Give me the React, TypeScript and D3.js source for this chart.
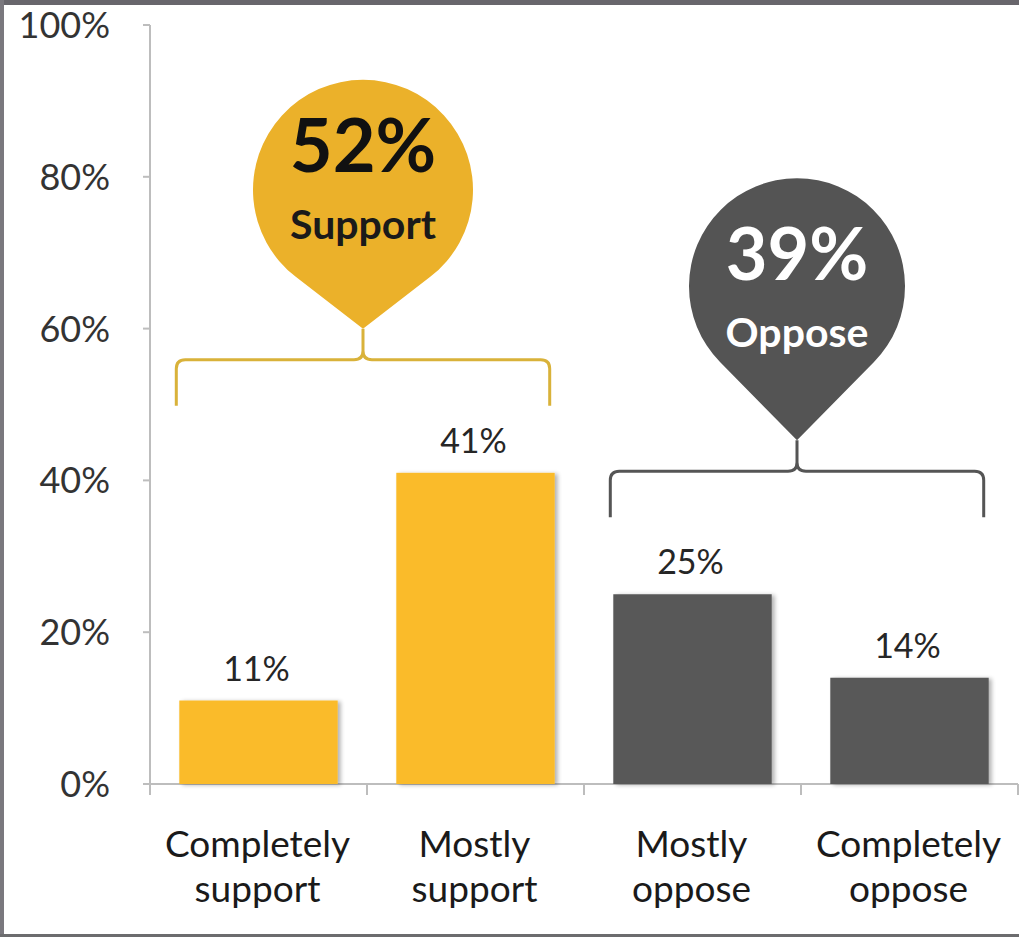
import React from "react";
import * as d3 from "d3";

const categories: string[][] = [
  ["Completely", "support"],
  ["Mostly", "support"],
  ["Mostly", "oppose"],
  ["Completely", "oppose"],
];
const values: number[] = [11, 41, 25, 14];
const valueLabels: string[] = ["11%", "41%", "25%", "14%"];
const barGroups: string[] = ["support", "support", "oppose", "oppose"];
const yTicks: number[] = [0, 20, 40, 60, 80, 100];

const groupTotals: number[] = [52, 39];
const groupNames: string[] = ["Support", "Oppose"];
const groupKeys: string[] = ["support", "oppose"];

const W = 1019;
const H = 937;
const FONT = "Lato, 'Open Sans', sans-serif";
const YELLOW = "#FABB2B";
const GRAY = "#595959";
const BUBBLE_YELLOW = "#EBB12A";
const BUBBLE_GRAY = "#545454";
const BRACE_YELLOW = "#D9B23A";
const BRACE_GRAY = "#555555";

export default function App() {
  const x = d3
    .scaleBand<number>()
    .domain(d3.range(values.length))
    .range([150, 1018])
    .paddingInner(0.27)
    .paddingOuter(0.135);
  const y = d3.scaleLinear().domain([0, 100]).range([784, 25]);

  const colorFor = (g: string) => (g === "support" ? YELLOW : GRAY);

  const bubbles = groupKeys.map((g, gi) => {
    const idx = barGroups.map((b, i) => (b === g ? i : -1)).filter((i) => i >= 0);
    const x0 = x(idx[0])! - 3;
    const x1 = x(idx[idx.length - 1])! + x.bandwidth() - 5;
    const cx = (x0 + x1) / 2;
    const topVal = d3.max(idx, (i) => values[i])!;
    const braceEnd = y(topVal) - (gi === 0 ? 67 : 77);
    const braceY = braceEnd - 46;
    const tipY = braceY - 31;
    const r = gi === 0 ? 110 : 108;
    const cy = tipY - (gi === 0 ? 139 : 154);
    return { x0, x1, cx, braceEnd, braceY, tipY, r, cy, gi };
  });

  const bubblePath = (cx: number, cy: number, r: number, ty: number) => {
    const d = ty - cy;
    const th = Math.acos(r / d);
    const px = r * Math.sin(th);
    const py = r * Math.cos(th);
    return `M${cx},${ty} L${cx + px},${cy + py} A${r},${r} 0 1 0 ${cx - px},${cy + py} Z`;
  };

  const bracePath = (x0: number, x1: number, yH: number, yEnd: number, cx: number, tip: number) => {
    const c = 9;
    return (
      `M${x0},${yEnd} L${x0},${yH + c} Q${x0},${yH} ${x0 + c},${yH} L${cx - c},${yH} Q${cx},${yH} ${cx},${yH - c} L${cx},${tip}` +
      ` M${x1},${yEnd} L${x1},${yH + c} Q${x1},${yH} ${x1 - c},${yH} L${cx + c},${yH} Q${cx},${yH} ${cx},${yH - c}`
    );
  };

  return (
    <svg
      width={W}
      height={H}
      style={{ position: "absolute", left: 0, top: 0, background: "#fff" }}
      fontFamily={FONT}
    >
      <defs>
        <filter id="shadow" x="-10%" y="-10%" width="130%" height="130%">
          <feGaussianBlur in="SourceAlpha" stdDeviation="2" />
          <feOffset dx="3" dy="1" result="ob" />
          <feComponentTransfer>
            <feFuncA type="linear" slope="0.3" />
          </feComponentTransfer>
          <feMerge>
            <feMergeNode />
            <feMergeNode in="SourceGraphic" />
          </feMerge>
        </filter>
      </defs>
      <rect x={0} y={0} width={W} height={H} fill="#fff" />

      {/* y axis */}
      <line x1={150} x2={150} y1={y(100)} y2={y(0)} stroke="#bdbdbd" strokeWidth={2} />
      {yTicks.map((t) => (
        <g key={t}>
          <line x1={143} x2={150} y1={y(t)} y2={y(t)} stroke="#bdbdbd" strokeWidth={2} />
          <text x={110} y={y(t)} dy="0.36em" textAnchor="end" fontSize={36} fill="#333">
            {t}%
          </text>
        </g>
      ))}

      {/* x axis */}
      <line x1={143} x2={1018} y1={y(0)} y2={y(0)} stroke="#bdbdbd" strokeWidth={2} />
      {d3.range(values.length + 1).map((i) => {
        const xx = 150 + i * x.step();
        return <line key={i} x1={xx} x2={xx} y1={y(0)} y2={y(0) + 11} stroke="#bdbdbd" strokeWidth={2} />;
      })}

      {/* bars */}
      {values.map((v, i) => (
        <g key={i}>
          <rect
            x={x(i)}
            y={y(v)}
            width={x.bandwidth()}
            height={y(0) - y(v)}
            fill={colorFor(barGroups[i])}
            filter="url(#shadow)"
          />
          <text
            x={x(i)! + x.bandwidth() / 2 - 2}
            y={y(v) - 20}
            textAnchor="middle"
            fontSize={34}
            fill="#262626"
          >
            {valueLabels[i]}
          </text>
          {categories[i].map((line, li) => (
            <text
              key={li}
              x={x(i)! + x.bandwidth() / 2 - 1}
              y={857 + li * 45}
              textAnchor="middle"
              fontSize={37}
              fill="#1a1a1a"
            >
              {line}
            </text>
          ))}
        </g>
      ))}

      {/* braces and bubbles */}
      {bubbles.map((b) => {
        const isS = b.gi === 0;
        return (
          <g key={b.gi}>
            <path
              d={bracePath(b.x0, b.x1, b.braceY, b.braceEnd, b.cx, b.tipY)}
              fill="none"
              stroke={isS ? BRACE_YELLOW : BRACE_GRAY}
              strokeWidth={3}
            />
            <path d={bubblePath(b.cx, b.cy, b.r, b.tipY)} fill={isS ? BUBBLE_YELLOW : BUBBLE_GRAY} />
            <text
              x={b.cx}
              y={b.cy - (isS ? 18 : 6)}
              textAnchor="middle"
              fontSize={isS ? 74 : 72}
              fontWeight="bold"
              fill={isS ? "#111" : "#fff"}
            >
              {groupTotals[b.gi]}%
            </text>
            <text
              x={b.cx}
              y={b.cy + (isS ? 49 : 61)}
              textAnchor="middle"
              fontSize={41}
              fontWeight="bold"
              fill={isS ? "#1a1a1a" : "#fff"}
            >
              {groupNames[b.gi]}
            </text>
          </g>
        );
      })}

      {/* photo frame edges */}
      <rect x={0} y={0} width={W} height={5} fill="#68666c" />
      <rect x={0} y={0} width={4} height={H} fill="#7a787e" />
      <rect x={0} y={934} width={W} height={3} fill="#6c6c6e" />
    </svg>
  );
}
